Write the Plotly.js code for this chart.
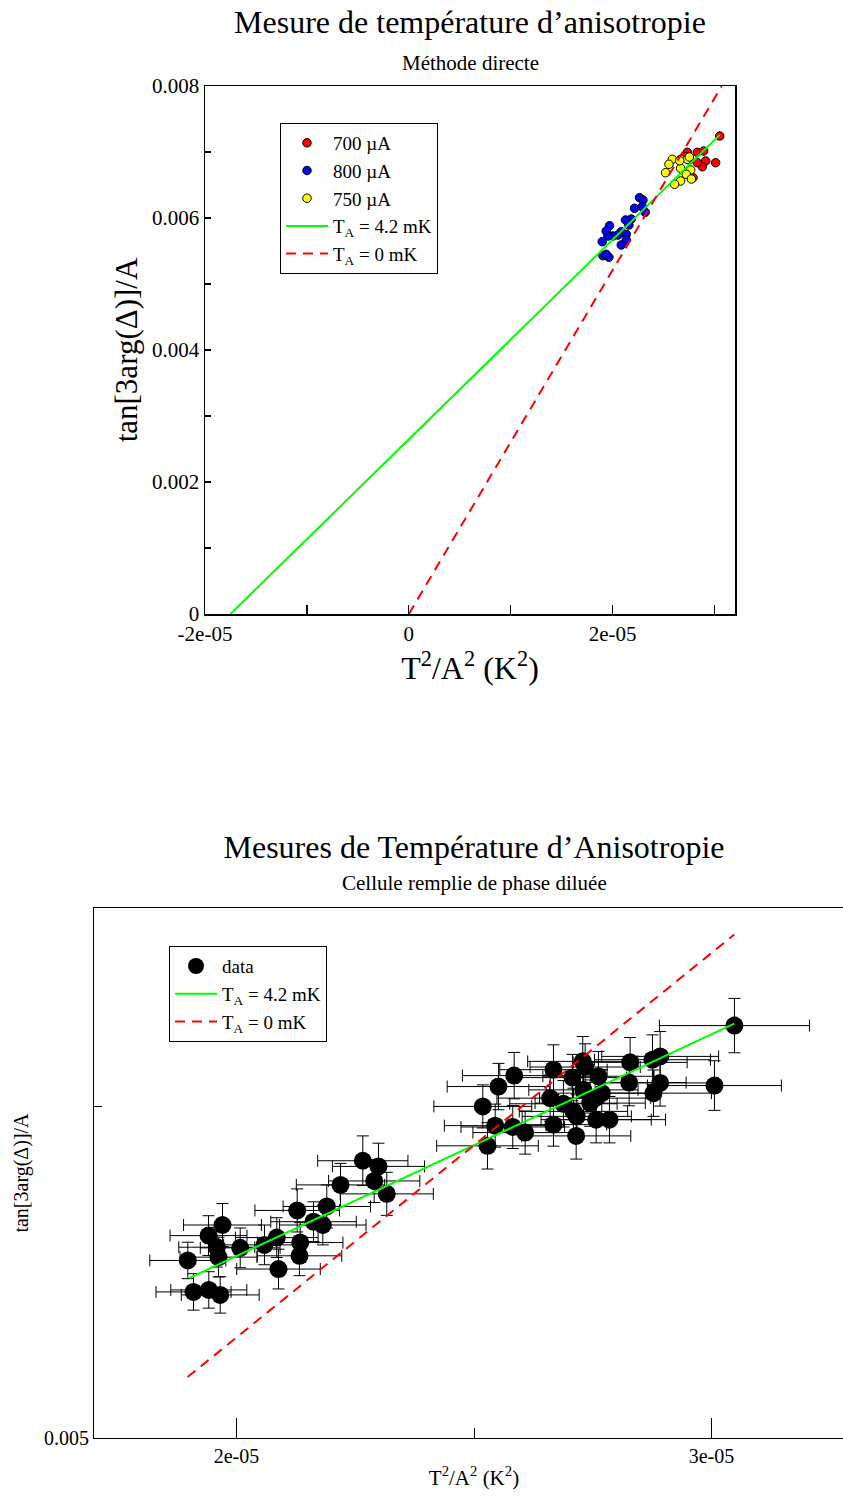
<!DOCTYPE html>
<html>
<head>
<meta charset="utf-8">
<script src="https://cdn.plot.ly/plotly-3.0.1.min.js"></script>
<style>
html,body{margin:0;padding:0;background:#fff;overflow:hidden;width:843px;height:1497px;}
#top{position:absolute;left:0;top:0;width:843px;height:740px;}
#bot{position:absolute;left:0;top:720px;width:880px;height:777px;}
</style>
</head>
<body>
<div id="top"></div>
<div id="bot"></div>
<script>
// ---------- Top chart data (Méthode directe) ----------
const x700 = [3.050e-5, 2.732e-5, 2.830e-5, 2.892e-5, 2.912e-5, 2.880e-5, 3.010e-5, 2.716e-5, 2.788e-5, 2.752e-5, 2.830e-5];
const y700 = [0.007242, 0.006995, 0.006995, 0.007015, 0.006864, 0.006777, 0.006838, 0.006929, 0.006611, 0.006879, 0.006838];
const x800 = [2.263e-5, 2.297e-5, 2.214e-5, 2.290e-5, 2.319e-5, 2.182e-5, 2.126e-5, 2.159e-5, 1.969e-5, 1.936e-5, 2.084e-5,
              2.133e-5, 2.051e-5, 2.002e-5, 1.953e-5, 2.133e-5, 1.897e-5, 2.084e-5, 1.904e-5, 1.963e-5, 1.936e-5];
const y800 = [0.006308, 0.006273, 0.006147, 0.006171, 0.006086, 0.005985, 0.005970, 0.005894, 0.005883, 0.005803, 0.005792,
              0.005753, 0.005742, 0.005727, 0.005727, 0.005667, 0.005641, 0.005591, 0.005429, 0.005405, 0.005450];
const x750 = [2.585e-5, 2.552e-5, 2.519e-5, 2.666e-5, 2.732e-5, 2.666e-5, 2.765e-5, 2.722e-5, 2.666e-5, 2.607e-5, 2.772e-5, 2.752e-5, 2.657e-5];
const y750 = [0.006889, 0.006814, 0.006686, 0.006889, 0.006889, 0.006753, 0.006727, 0.006662, 0.006561, 0.006511, 0.006591, 0.006924, 0.006868];
const fitTopX = [-1.75e-5, 3.05e-5];
const fitTopY = [0, 0.00726];
const zeroTopX = [0, 3.07e-5];
const zeroTopY = [0, 0.0080];
const topXTicks = [-2e-5, 0, 2e-5];
const topXLabels = ['-2e-05', '0', '2e-05'];
const topXMinor = [-1e-5, 1e-5, 3e-5];
const topYTicks = [0, 0.002, 0.004, 0.006, 0.008];
const topYLabels = ['0', '0.002', '0.004', '0.006', '0.008'];
const topYMinor = [0.001, 0.003, 0.005, 0.007];

// ---------- Bottom chart data (Cellule remplie de phase diluée) ----------
const dataX = [1.8975e-5, 1.9095e-5, 1.9417e-5, 1.9657e-5, 1.9411e-5, 1.9705e-5, 1.9585e-5, 1.9621e-5, 2.0078e-5, 2.0589e-5,
               2.0848e-5, 2.0884e-5, 2.1341e-5, 2.1326e-5, 2.1278e-5, 2.1621e-5, 2.1817e-5, 2.1901e-5, 2.2189e-5, 2.2659e-5,
               2.2989e-5, 2.2899e-5, 2.3164e-5,
               2.5185e-5, 2.5284e-5, 2.5446e-5, 2.5515e-5, 2.5846e-5, 2.5816e-5, 2.6077e-5, 2.6603e-5, 2.6673e-5, 2.6673e-5,
               2.7151e-5, 2.7073e-5, 2.7290e-5, 2.7340e-5, 2.7163e-5, 2.7446e-5, 2.7551e-5, 2.7620e-5, 2.7690e-5, 2.7572e-5,
               2.7852e-5, 2.8287e-5, 2.8266e-5, 2.8757e-5, 2.8919e-5, 2.8919e-5, 2.8778e-5, 3.0062e-5, 3.0483e-5,
               2.7094e-5, 2.7304e-5, 2.6883e-5];
const dataY = [0.005536, 0.005441, 0.005447, 0.005432, 0.005611, 0.005643, 0.005576, 0.005546, 0.005574, 0.005583,
               0.005605, 0.005510, 0.005590, 0.005550, 0.005687, 0.005653, 0.005643, 0.005699, 0.005764, 0.005837,
               0.005820, 0.005776, 0.005737,
               0.006001, 0.005882, 0.005943, 0.006061, 0.006094, 0.005939, 0.005922, 0.006026, 0.006112, 0.005946,
               0.005912, 0.006088, 0.006137, 0.006120, 0.005971, 0.006011, 0.006026, 0.006092, 0.006041, 0.005961,
               0.005961, 0.006134, 0.006073, 0.006142, 0.006152, 0.006072, 0.006041, 0.006064, 0.006245,
               0.005986, 0.006051, 0.006009];
const dataXErr = [0.80e-6, 0.79e-6, 0.80e-6, 0.82e-6, 0.81e-6, 0.82e-6, 0.80e-6, 0.81e-6, 0.84e-6, 0.86e-6,
                  0.87e-6, 0.88e-6, 0.90e-6, 0.89e-6, 0.89e-6, 0.90e-6, 0.91e-6, 0.92e-6, 0.93e-6, 0.95e-6,
                  0.97e-6, 0.96e-6, 0.98e-6,
                  1.03e-6, 1.07e-6, 1.07e-6, 1.08e-6, 1.09e-6, 1.09e-6, 1.10e-6, 1.12e-6, 1.13e-6, 1.12e-6,
                  1.15e-6, 1.14e-6, 1.16e-6, 1.16e-6, 1.15e-6, 1.16e-6, 1.17e-6, 1.17e-6, 1.17e-6, 1.16e-6,
                  1.18e-6, 1.20e-6, 1.20e-6, 1.22e-6, 1.23e-6, 1.22e-6, 1.22e-6, 1.41e-6, 1.58e-6,
                  1.14e-6, 1.15e-6, 1.13e-6];
const dataYErr = [5.5e-5, 5.5e-5, 5.5e-5, 5.5e-5, 6.0e-5, 6.5e-5, 6.0e-5, 6.0e-5, 6.0e-5, 6.0e-5,
                  6.0e-5, 6.0e-5, 6.0e-5, 6.0e-5, 6.5e-5, 6.0e-5, 6.0e-5, 6.5e-5, 6.5e-5, 7.5e-5,
                  7.0e-5, 6.5e-5, 6.5e-5,
                  6.5e-5, 7.0e-5, 6.5e-5, 7.0e-5, 7.0e-5, 6.5e-5, 6.5e-5, 7.0e-5, 7.5e-5, 6.5e-5,
                  7.0e-5, 7.0e-5, 7.5e-5, 7.0e-5, 6.5e-5, 7.0e-5, 7.0e-5, 7.5e-5, 7.0e-5, 7.0e-5,
                  7.0e-5, 7.5e-5, 7.0e-5, 7.5e-5, 7.5e-5, 7.0e-5, 7.0e-5, 7.5e-5, 8.2e-5,
                  7.0e-5, 7.0e-5, 7.0e-5];
const fitBotX = [1.901e-5, 3.048e-5];
const fitBotY = [0.005483, 0.006251];
const zeroBotX = [1.897e-5, 3.048e-5];
const zeroBotY = [0.005184, 0.006520];
const botXTicks = [2e-5, 3e-5];
const botXLabels = ['2e-05', '3e-05'];
const botXMinor = [2.5e-5];
const botYTicks = [0.005];
const botYLabels = ['0.005'];
const botYMinor = [0.006];

const FONT = 'Liberation Serif, Times New Roman, serif';
const GREEN = '#00ff00', RED = '#ff0000';
const DASH = '10px,7px';

// ---------- Top chart ----------
const mk = (c) => ({size: 8.5, color: c, line: {color: '#000', width: 1}});
const topTraces = [
  {x: x700, y: y700, mode: 'markers', type: 'scatter', name: '700 µA', marker: mk(RED)},
  {x: x800, y: y800, mode: 'markers', type: 'scatter', name: '800 µA', marker: mk('#0000ff')},
  {x: x750, y: y750, mode: 'markers', type: 'scatter', name: '750 µA', marker: mk('#ffff00')},
  {x: fitTopX, y: fitTopY, mode: 'lines', type: 'scatter', name: 'T<sub>A</sub> = 4.2 mK', line: {color: GREEN, width: 2}},
  {x: zeroTopX, y: zeroTopY, mode: 'lines', type: 'scatter', name: 'T<sub>A</sub> = 0 mK', line: {color: RED, width: 2, dash: DASH}}
];
const topLayout = {
  width: 843, height: 740,
  margin: {l: 205, r: 108, t: 86, b: 126},
  paper_bgcolor: '#fff', plot_bgcolor: '#fff',
  font: {family: FONT, color: '#000', size: 20},
  title: {text: 'Mesure de température d’anisotropie', font: {family: FONT, size: 32, color: '#000'},
          x: 0.5, xref: 'paper', y: 1 - 22 / 740, yref: 'container', yanchor: 'middle'},
  showlegend: true,
  legend: {x: 0.1415, y: 0.93, xanchor: 'left', yanchor: 'top', bgcolor: '#fff', bordercolor: '#000', borderwidth: 1,
           font: {family: FONT, size: 19, color: '#000'}, tracegroupgap: 0, itemwidth: 42},
  xaxis: {range: [-2e-5, 3.2e-5], tickmode: 'array', tickvals: topXTicks, ticktext: topXLabels,
          ticks: 'inside', ticklen: 9, tickwidth: 1.2, tickcolor: '#000', showgrid: false, zeroline: false,
          minor: {tickvals: topXMinor, ticks: 'inside', ticklen: 9, tickwidth: 1.2, tickcolor: '#000', showgrid: false},
          showline: true, linecolor: '#000', linewidth: 1.5, mirror: true,
          tickfont: {family: FONT, size: 21, color: '#000'},
          title: {text: 'T<sup>2</sup>/A<sup>2</sup> (K<sup>2</sup>)', font: {family: FONT, size: 32, color: '#000'}, standoff: 3}},
  yaxis: {range: [0, 0.008], tickmode: 'array', tickvals: topYTicks, ticktext: topYLabels,
          ticks: 'inside', ticklen: 6, tickwidth: 1.2, tickcolor: '#000', showgrid: false, zeroline: false,
          minor: {tickvals: topYMinor, ticks: 'inside', ticklen: 6, tickwidth: 1.2, tickcolor: '#000', showgrid: false},
          showline: true, linecolor: '#000', linewidth: 1.5, mirror: true,
          tickfont: {family: FONT, size: 21, color: '#000'},
          title: {text: 'tan[3arg(Δ)]/A', font: {family: FONT, size: 31, color: '#000'}, standoff: 5}},
  annotations: [
    {text: 'Méthode directe', xref: 'paper', yref: 'paper', x: 0.5, y: (614 - 63) / 528, xanchor: 'center', yanchor: 'middle',
     showarrow: false, font: {family: FONT, size: 21, color: '#000'}}
  ]
};
Plotly.newPlot('top', topTraces, topLayout, {staticPlot: true, displayModeBar: false});

// ---------- Bottom chart ----------
const botTraces = [
  {x: dataX, y: dataY, mode: 'markers', type: 'scatter', name: 'data',
   marker: {size: 18, color: '#000'},
   error_x: {type: 'data', array: dataXErr, visible: true, color: '#000', thickness: 1, width: 6},
   error_y: {type: 'data', array: dataYErr, visible: true, color: '#000', thickness: 1, width: 6}},
  {x: fitBotX, y: fitBotY, mode: 'lines', type: 'scatter', name: 'T<sub>A</sub> = 4.2 mK', line: {color: GREEN, width: 2}},
  {x: zeroBotX, y: zeroBotY, mode: 'lines', type: 'scatter', name: 'T<sub>A</sub> = 0 mK', line: {color: RED, width: 2, dash: DASH}}
];
const botLayout = {
  width: 880, height: 777,
  margin: {l: 94, r: 26, t: 188, b: 59},
  paper_bgcolor: '#fff', plot_bgcolor: '#fff',
  font: {family: FONT, color: '#000', size: 20},
  title: {text: 'Mesures de Température d’Anisotropie', font: {family: FONT, size: 32, color: '#000'},
          x: 0.5, xref: 'paper', y: 1 - 127 / 777, yref: 'container', yanchor: 'middle'},
  showlegend: true,
  legend: {x: 0.0987, y: 0.928, xanchor: 'left', yanchor: 'top', bgcolor: '#fff', bordercolor: '#000', borderwidth: 1,
           font: {family: FONT, size: 19, color: '#000'}, tracegroupgap: 0, itemwidth: 42},
  xaxis: {range: [1.7e-5, 3.3e-5], tickmode: 'array', tickvals: botXTicks, ticktext: botXLabels,
          ticks: 'inside', ticklen: 20, tickwidth: 1, tickcolor: '#000', showgrid: false, zeroline: false,
          minor: {tickvals: botXMinor, ticks: 'inside', ticklen: 10, tickwidth: 1, tickcolor: '#000', showgrid: false},
          showline: true, linecolor: '#000', linewidth: 1, mirror: true,
          tickfont: {family: FONT, size: 20, color: '#000'},
          title: {text: 'T<sup>2</sup>/A<sup>2</sup> (K<sup>2</sup>)', font: {family: FONT, size: 21, color: '#000'}, standoff: 4}},
  yaxis: {range: [0.005, 0.0066], tickmode: 'array', tickvals: botYTicks, ticktext: botYLabels,
          ticks: 'inside', ticklen: 8, tickwidth: 1, tickcolor: '#000', showgrid: false, zeroline: false,
          minor: {tickvals: botYMinor, ticks: 'inside', ticklen: 8, tickwidth: 1, tickcolor: '#000', showgrid: false},
          showline: true, linecolor: '#000', linewidth: 1, mirror: true,
          tickfont: {family: FONT, size: 20, color: '#000'},
          title: {text: 'tan[3arg(Δ)]/A', font: {family: FONT, size: 20, color: '#000'}, standoff: 10}},
  annotations: [
    {text: 'Cellule remplie de phase diluée', xref: 'paper', yref: 'paper', x: 0.5, y: (718 - 163) / 530, xanchor: 'center', yanchor: 'middle',
     showarrow: false, font: {family: FONT, size: 21, color: '#000'}}
  ]
};
Plotly.newPlot('bot', botTraces, botLayout, {staticPlot: true, displayModeBar: false});
</script>
</body>
</html>
